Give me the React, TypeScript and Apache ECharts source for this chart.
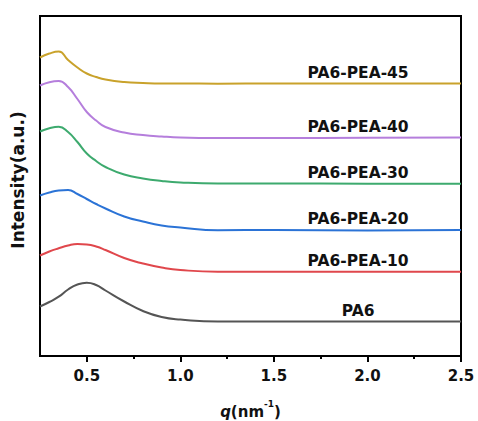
import React, { useEffect, useRef } from "react";
import * as echarts from "echarts";

const qValues = [0.25, 0.3, 0.35, 0.4, 0.45, 0.5, 0.55, 0.6, 0.7, 0.8, 0.9, 1.0, 1.2, 1.5, 2.0, 2.5];

const pa6 = [49.5, 54, 59.3, 66.5, 71.5, 73.3, 71, 65.5, 54.5, 45, 39, 36.5, 34.5, 34.5, 34.5, 34.5];
const pea10 = [100.5, 104.5, 107.7, 110.5, 112, 111.5, 109.5, 106, 98, 92.5, 88.5, 86, 84.3, 84.3, 84.3, 84.3];
const pea20 = [160.5, 163.5, 165.5, 166, 162, 157, 152, 147.5, 139.5, 134.5, 130.5, 128.5, 125.8, 126, 125.5, 126];
const pea30 = [224.5, 227.8, 229.3, 224, 214, 202.5, 195, 189, 181.5, 177.5, 175, 173.5, 172.5, 172.5, 172.3, 172.3];
const pea40 = [270.5, 273.8, 275, 269, 257, 244, 235.5, 229, 223.5, 221, 219.5, 218.5, 218, 218, 218.3, 218.5];
const pea45 = [298.5, 302.5, 304.5, 296, 288.5, 282.5, 279, 276.5, 274, 273, 272.5, 272.5, 272.3, 272.5, 272.5, 272.5];

const seriesNames = ["PA6", "PA6-PEA-10", "PA6-PEA-20", "PA6-PEA-30", "PA6-PEA-40", "PA6-PEA-45"];
const seriesValues = [pa6, pea10, pea20, pea30, pea40, pea45];
const seriesColors = ["#555555", "#e0474c", "#2b73d6", "#3daa6e", "#b57edc", "#c9a22b"];

const majorTicks = [0.5, 1.0, 1.5, 2.0, 2.5];
const minorTicks = [0.75, 1.25, 1.75, 2.25];
const labelQ = 1.95;

const FONT = "DejaVu Sans";

export default function App() {
  const ref = useRef<HTMLDivElement>(null);
  useEffect(() => {
    if (!ref.current) return;
    const chart = echarts.init(ref.current, null, { renderer: "svg" });
    const series = seriesNames.map((name, i) => {
      const vals = seriesValues[i];
      return {
        name,
        type: "line",
        smooth: 0.5,
        symbol: "none",
        data: qValues.map((q, j) => [q, vals[j]]),
        lineStyle: { color: seriesColors[i], width: 2 },
        itemStyle: { color: seriesColors[i] },
        markPoint: {
          symbol: "circle",
          symbolSize: 0,
          data: [
            {
              coord: [labelQ, vals[vals.length - 1]],
              label: {
                show: true,
                position: "top",
                distance: 3,
                formatter: name,
                color: "#111",
                fontFamily: FONT,
                fontWeight: "bold",
                fontSize: 15.5,
              },
            },
          ],
        },
      };
    });
    chart.setOption({
      animation: false,
      backgroundColor: "#fff",
      grid: {
        left: 40,
        right: 17,
        top: 16,
        bottom: 65,
        outerBoundsMode: "none",
        containLabel: false,
        show: true,
        borderColor: "#000",
        borderWidth: 2,
        backgroundColor: "transparent",
      },
      xAxis: [
        {
          type: "value",
          min: 0.25,
          max: 2.5,
          name: "{i|q}{n|(nm}{s|-1}{n|)}",
          nameLocation: "middle",
          nameGap: 43,
          nameTextStyle: {
            rich: {
              i: { fontFamily: FONT, fontWeight: "bold", fontStyle: "italic", fontSize: 15, color: "#111", verticalAlign: "bottom", lineHeight: 20 },
              n: { fontFamily: FONT, fontWeight: "bold", fontSize: 15, color: "#111", verticalAlign: "bottom", lineHeight: 20 },
              s: { fontFamily: FONT, fontWeight: "bold", fontSize: 9, color: "#111", verticalAlign: "top", lineHeight: 20, padding: [0, 0, 8, 0] },
            },
          },
          axisLine: { lineStyle: { color: "#000", width: 2 } },
          axisTick: { customValues: majorTicks, length: 6, lineStyle: { color: "#000", width: 2 } },
          axisLabel: {
            customValues: majorTicks,
            formatter: (v: number) => v.toFixed(1),
            margin: 12,
            color: "#111",
            fontFamily: FONT,
            fontWeight: "bold",
            fontSize: 15,
          },
          splitLine: { show: false },
        },
        {
          type: "value",
          min: 0.25,
          max: 2.5,
          position: "bottom",
          axisLine: { show: false },
          axisTick: { customValues: minorTicks, length: 3, lineStyle: { color: "#000", width: 2 } },
          axisLabel: { show: false },
          splitLine: { show: false },
        },
      ],
      yAxis: {
        type: "value",
        min: 0,
        max: 340,
        name: "Intensity(a.u.)",
        nameLocation: "middle",
        nameGap: 14,
        nameTextStyle: { fontFamily: FONT, fontWeight: "bold", fontSize: 17, color: "#111", padding: [0, 0, 0, 12] },
        axisLine: { show: true, lineStyle: { color: "#000", width: 2 } },
        axisTick: { show: false },
        axisLabel: { show: false },
        splitLine: { show: false },
      },
      series,
    });
    return () => chart.dispose();
  }, []);
  return <div ref={ref} style={{ width: 478, height: 421, position: "absolute", left: 0, top: 0 }} />;
}
